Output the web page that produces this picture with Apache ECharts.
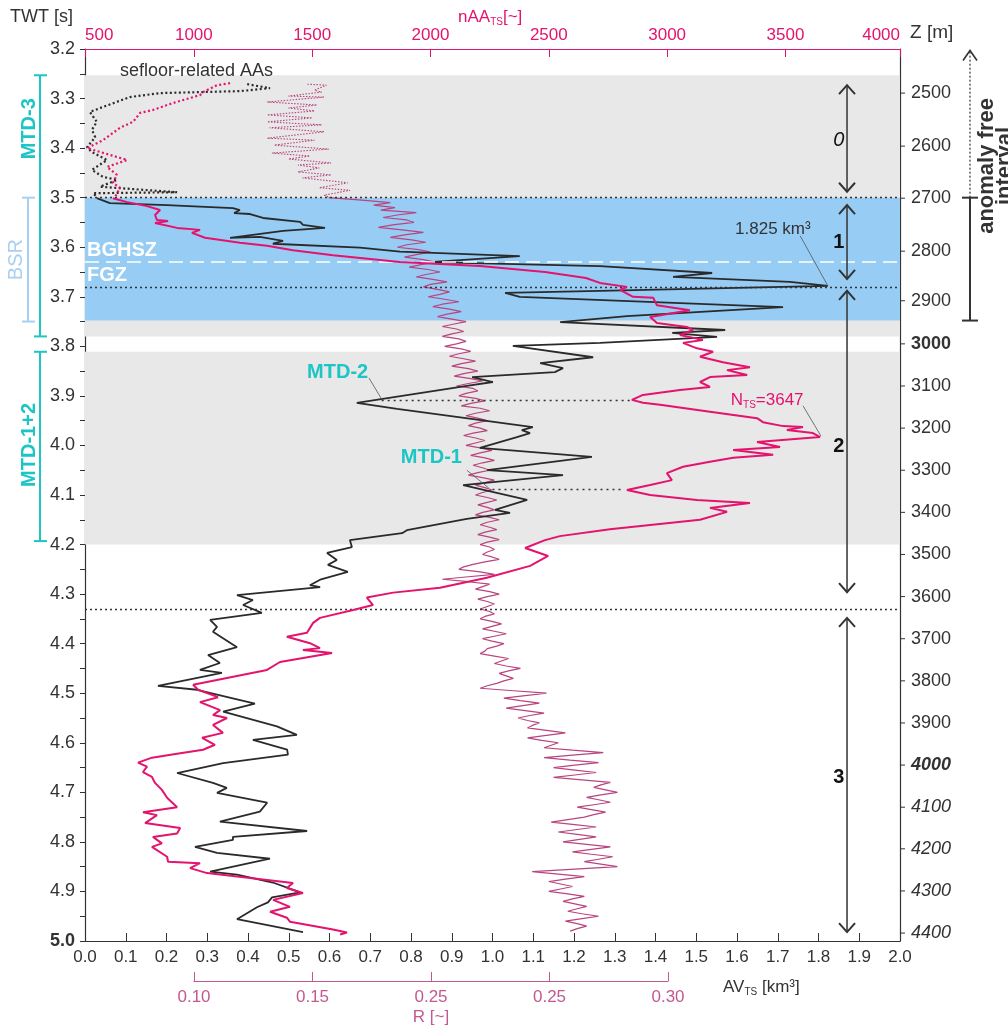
<!DOCTYPE html>
<html><head><meta charset="utf-8">
<script src="https://cdn.jsdelivr.net/npm/echarts@6/dist/echarts.min.js"></script>
<style>html,body{margin:0;padding:0;background:#fff}#c{width:1008px;height:1030px}</style>
</head><body><div id="c"></div>
<script>
// ---------------- DATA ----------------
// AV_TS [km3] vs TWT [s]  : pairs [twt, av]
const avDotted = [[3.271,0.398],[3.279,0.454],[3.285,0.380],[3.289,0.184],[3.297,0.110],[3.317,0.044],[3.327,0.012],[3.347,0.029],[3.363,0.017],[3.378,0.025],[3.398,0.005],[3.408,0.017],[3.424,0.054],[3.444,0.017],[3.458,0.044],[3.464,0.079],[3.478,0.037],[3.489,0.226],[3.491,0.020],[3.499,0.029]];
const avSolid = [[3.501,0.029],[3.511,0.061],[3.515,0.201],[3.521,0.363],[3.525,0.380],[3.531,0.366],[3.533,0.405],[3.541,0.437],[3.549,0.528],[3.555,0.535],[3.561,0.589],[3.567,0.486],[3.581,0.356],[3.579,0.429],[3.587,0.486],[3.593,0.461],[3.601,0.675],[3.609,0.773],[3.618,1.067],[3.630,0.847],[3.638,1.264],[3.652,1.539],[3.660,1.443],[3.670,1.730],[3.678,1.823],[3.688,1.264],[3.692,1.031],[3.700,1.067],[3.721,1.713],[3.739,1.330],[3.751,1.166],[3.767,1.571],[3.773,1.441],[3.781,1.551],[3.793,1.264],[3.799,1.050],[3.822,1.247],[3.834,1.117],[3.844,1.173],[3.852,1.153],[3.862,0.950],[3.872,1.001],[3.880,0.937],[3.914,0.667],[3.926,0.766],[3.963,1.099],[3.969,1.072],[3.975,1.092],[3.983,1.060],[4.005,0.969],[4.023,1.244],[4.050,0.987],[4.060,1.173],[4.080,0.928],[4.110,1.085],[4.130,1.006],[4.136,1.043],[4.148,0.937],[4.171,0.790],[4.177,0.778],[4.191,0.650],[4.205,0.655],[4.217,0.594],[4.231,0.618],[4.241,0.596],[4.255,0.645],[4.271,0.577],[4.282,0.552],[4.286,0.577],[4.302,0.373],[4.312,0.412],[4.322,0.388],[4.338,0.434],[4.352,0.307],[4.366,0.324],[4.376,0.314],[4.407,0.373],[4.423,0.302],[4.439,0.331],[4.453,0.282],[4.459,0.336],[4.485,0.179],[4.493,0.275],[4.521,0.417],[4.537,0.339],[4.567,0.471],[4.584,0.520],[4.594,0.412],[4.614,0.496],[4.624,0.498],[4.641,0.339],[4.661,0.226],[4.681,0.314],[4.691,0.348],[4.701,0.324],[4.721,0.447],[4.739,0.429],[4.759,0.331],[4.778,0.545],[4.790,0.363],[4.796,0.363],[4.810,0.270],[4.822,0.324],[4.834,0.454],[4.860,0.307],[4.866,0.373],[4.882,0.461],[4.902,0.528],[4.912,0.459],[4.922,0.449],[4.932,0.422],[4.956,0.373],[4.982,0.535]];
// nAA_TS [~] vs TWT : pairs [twt, nAA]
const naaDotted = [[3.269,1153],[3.273,1098],[3.287,1039],[3.293,1026],[3.309,912],[3.323,827],[3.329,773],[3.347,743],[3.359,688],[3.384,616],[3.400,549],[3.424,718],[3.438,633],[3.454,675],[3.470,658],[3.480,688],[3.499,667]];
const naaSolid = [[3.501,658],[3.509,718],[3.517,802],[3.525,857],[3.535,836],[3.545,844],[3.547,891],[3.551,836],[3.561,929],[3.565,1026],[3.571,992],[3.581,1047],[3.591,1195],[3.597,1309],[3.606,1419],[3.616,1588],[3.630,1871],[3.638,2209],[3.650,2484],[3.662,2657],[3.672,2716],[3.680,2830],[3.686,2801],[3.700,2856],[3.702,2941],[3.717,2957],[3.727,3096],[3.741,2928],[3.753,2957],[3.761,3084],[3.767,3109],[3.777,3054],[3.787,3151],[3.793,3067],[3.804,3126],[3.811,3194],[3.821,3139],[3.832,3236],[3.842,3350],[3.848,3253],[3.858,3338],[3.862,3181],[3.872,3139],[3.882,3181],[3.888,3054],[3.898,2898],[3.908,2851],[3.914,2898],[3.918,2970],[3.922,2970],[3.932,3181],[3.945,3380],[3.953,3405],[3.961,3490],[3.963,3574],[3.969,3506],[3.975,3616],[3.983,3646],[3.993,3380],[4.003,3477],[4.009,3279],[4.019,3448],[4.025,3279],[4.033,3181],[4.043,3067],[4.056,2999],[4.070,3020],[4.080,2928],[4.090,2830],[4.100,2928],[4.110,3126],[4.116,3350],[4.126,3181],[4.134,3253],[4.150,3139],[4.169,2758],[4.183,2547],[4.191,2484],[4.207,2400],[4.223,2497],[4.243,2421],[4.267,2238],[4.287,2040],[4.297,1842],[4.307,1731],[4.322,1757],[4.332,1673],[4.348,1533],[4.358,1504],[4.378,1478],[4.386,1393],[4.399,1491],[4.409,1533],[4.413,1461],[4.419,1584],[4.437,1364],[4.453,1309],[4.483,997],[4.493,1018],[4.508,1102],[4.518,1026],[4.534,1111],[4.544,1081],[4.550,1140],[4.564,1081],[4.580,1123],[4.590,1035],[4.604,1089],[4.614,1039],[4.622,929],[4.630,823],[4.640,764],[4.648,802],[4.659,785],[4.669,823],[4.681,836],[4.695,865],[4.711,887],[4.730,929],[4.740,785],[4.746,844],[4.762,794],[4.772,942],[4.783,929],[4.790,827],[4.803,865],[4.810,823],[4.830,887],[4.840,891],[4.843,1026],[4.853,984],[4.863,1056],[4.883,1419],[4.893,1393],[4.903,1461],[4.917,1335],[4.931,1406],[4.941,1322],[4.953,1393],[4.961,1406],[4.977,1588],[4.983,1647],[4.987,1618]];
// R [~] vs TWT : pairs [twt, R]
const rDotted = [[3.271,0.148],[3.273,0.156],[3.283,0.151],[3.287,0.154],[3.295,0.140],[3.297,0.155],[3.307,0.131],[3.313,0.152],[3.319,0.140],[3.325,0.151],[3.333,0.131],[3.339,0.150],[3.347,0.131],[3.353,0.154],[3.359,0.132],[3.367,0.155],[3.380,0.131],[3.384,0.151],[3.394,0.134],[3.402,0.157],[3.410,0.133],[3.416,0.149],[3.422,0.140],[3.430,0.158],[3.434,0.144],[3.440,0.153],[3.448,0.144],[3.454,0.158],[3.460,0.146],[3.470,0.165],[3.480,0.153],[3.485,0.166],[3.495,0.155],[3.499,0.157]];
const rSolid = [[3.50,0.157],[3.505,0.171],[3.51,0.183],[3.515,0.176],[3.52,0.185],[3.525,0.179],[3.53,0.194],[3.535,0.186],[3.54,0.180],[3.545,0.190],[3.55,0.193],[3.555,0.184],[3.56,0.178],[3.565,0.188],[3.57,0.197],[3.575,0.189],[3.58,0.183],[3.585,0.192],[3.59,0.198],[3.595,0.190],[3.60,0.186],[3.605,0.195],[3.61,0.200],[3.615,0.194],[3.62,0.189],[3.625,0.197],[3.63,0.202],[3.635,0.196],[3.64,0.191],[3.645,0.199],[3.65,0.204],[3.655,0.198],[3.66,0.194],[3.665,0.201],[3.67,0.207],[3.675,0.200],[3.68,0.197],[3.685,0.203],[3.69,0.208],[3.695,0.204],[3.70,0.199],[3.705,0.206],[3.71,0.212],[3.715,0.205],[3.72,0.201],[3.725,0.208],[3.73,0.213],[3.735,0.207],[3.74,0.203],[3.745,0.209],[3.75,0.215],[3.755,0.210],[3.76,0.205],[3.765,0.211],[3.77,0.214],[3.775,0.209],[3.78,0.205],[3.785,0.212],[3.79,0.215],[3.795,0.211],[3.80,0.206],[3.805,0.213],[3.81,0.217],[3.815,0.212],[3.82,0.208],[3.825,0.214],[3.83,0.219],[3.835,0.213],[3.84,0.209],[3.845,0.216],[3.85,0.220],[3.855,0.214],[3.86,0.210],[3.865,0.217],[3.87,0.222],[3.875,0.216],[3.88,0.211],[3.885,0.218],[3.89,0.220],[3.895,0.215],[3.90,0.212],[3.905,0.219],[3.91,0.223],[3.915,0.217],[3.92,0.213],[3.925,0.221],[3.93,0.225],[3.935,0.219],[3.94,0.215],[3.945,0.220],[3.95,0.224],[3.955,0.219],[3.96,0.216],[3.965,0.221],[3.97,0.224],[3.975,0.218],[3.98,0.214],[3.985,0.219],[3.99,0.223],[3.995,0.219],[4.00,0.215],[4.005,0.221],[4.01,0.226],[4.015,0.221],[4.02,0.217],[4.025,0.223],[4.03,0.227],[4.035,0.222],[4.04,0.218],[4.045,0.222],[4.05,0.225],[4.055,0.220],[4.06,0.216],[4.065,0.222],[4.07,0.227],[4.075,0.223],[4.08,0.219],[4.085,0.223],[4.09,0.226],[4.095,0.222],[4.10,0.219],[4.105,0.224],[4.11,0.228],[4.115,0.224],[4.12,0.220],[4.125,0.224],[4.13,0.227],[4.135,0.222],[4.14,0.219],[4.145,0.225],[4.15,0.229],[4.155,0.224],[4.16,0.221],[4.165,0.225],[4.17,0.228],[4.175,0.223],[4.18,0.220],[4.185,0.225],[4.19,0.229],[4.195,0.224],[4.20,0.221],[4.205,0.225],[4.21,0.227],[4.215,0.224],[4.22,0.222],[4.225,0.226],[4.23,0.229],[4.235,0.223],[4.24,0.218],[4.245,0.214],[4.25,0.212],[4.255,0.221],[4.26,0.227],[4.265,0.216],[4.27,0.205],[4.275,0.216],[4.28,0.225],[4.285,0.222],[4.29,0.219],[4.295,0.225],[4.30,0.229],[4.305,0.224],[4.31,0.220],[4.315,0.224],[4.32,0.227],[4.325,0.224],[4.33,0.221],[4.335,0.225],[4.34,0.227],[4.345,0.223],[4.35,0.221],[4.355,0.226],[4.36,0.230],[4.365,0.226],[4.37,0.222],[4.375,0.227],[4.38,0.232],[4.385,0.227],[4.39,0.222],[4.395,0.226],[4.40,0.231],[4.405,0.228],[4.41,0.224],[4.415,0.223],[4.42,0.221],[4.425,0.227],[4.43,0.233],[4.435,0.230],[4.44,0.227],[4.445,0.232],[4.45,0.238],[4.455,0.233],[4.46,0.229],[4.465,0.232],[4.47,0.235],[4.475,0.231],[4.48,0.228],[4.485,0.224],[4.49,0.221],[4.495,0.235],[4.50,0.249],[4.505,0.240],[4.51,0.231],[4.515,0.238],[4.52,0.246],[4.525,0.239],[4.53,0.232],[4.535,0.240],[4.54,0.248],[4.545,0.242],[4.55,0.237],[4.555,0.241],[4.56,0.246],[4.565,0.243],[4.57,0.241],[4.575,0.249],[4.58,0.257],[4.585,0.249],[4.59,0.241],[4.595,0.247],[4.60,0.254],[4.605,0.251],[4.61,0.248],[4.615,0.260],[4.62,0.273],[4.625,0.260],[4.63,0.248],[4.635,0.259],[4.64,0.271],[4.645,0.261],[4.65,0.252],[4.655,0.261],[4.66,0.270],[4.665,0.261],[4.67,0.252],[4.675,0.264],[4.68,0.276],[4.685,0.272],[4.69,0.269],[4.695,0.274],[4.70,0.279],[4.705,0.272],[4.71,0.266],[4.715,0.271],[4.72,0.276],[4.725,0.269],[4.73,0.262],[4.735,0.268],[4.74,0.274],[4.745,0.269],[4.75,0.265],[4.755,0.258],[4.76,0.251],[4.765,0.261],[4.77,0.270],[4.775,0.262],[4.78,0.254],[4.785,0.262],[4.79,0.270],[4.795,0.263],[4.80,0.256],[4.805,0.266],[4.81,0.276],[4.815,0.268],[4.82,0.260],[4.825,0.268],[4.83,0.277],[4.835,0.271],[4.84,0.265],[4.845,0.272],[4.85,0.279],[4.855,0.261],[4.86,0.243],[4.865,0.254],[4.87,0.265],[4.875,0.257],[4.88,0.250],[4.885,0.255],[4.89,0.260],[4.895,0.255],[4.90,0.250],[4.905,0.258],[4.91,0.265],[4.915,0.260],[4.92,0.256],[4.925,0.261],[4.93,0.266],[4.935,0.262],[4.94,0.258],[4.945,0.264],[4.95,0.271],[4.955,0.264],[4.96,0.257],[4.965,0.262],[4.97,0.266],[4.975,0.262],[4.98,0.259]];

// Depth axis Z [m]: labels and the TWT where each sits
const zLabels = [2500,2600,2700,2800,2900,3000,3100,3200,3300,3400,3500,3600,3700,3800,3900,4000,4100,4200,4300,4400];
const zTWT = [3.289,3.396,3.501,3.608,3.708,3.795,3.880,3.965,4.050,4.135,4.220,4.305,4.390,4.475,4.560,4.645,4.730,4.814,4.899,4.984];

// Intervals (TWT)
const greyBands = [[3.253,3.780],[3.811,4.200]];
const blueBand = [3.500,3.748];
const dottedLevels = [3.500,3.678,4.325];
const bghszLevel = 3.634;
const mtdLinks = [[3.9096,0.728,1.342],[4.0885,1.000,1.317]]; // [twt, avFrom, avTo]
const leaders = [[[0.697,3.864],[0.729,3.908]],[[0.937,4.050],[0.991,4.086]],[[1.755,3.577],[1.823,3.678]],[[1.762,3.920],[1.806,3.981]]];
const intervalArrows = [[3.273,3.488,'0',3.384],[3.515,3.664,'1',3.591],[3.688,4.296,'2',4.003],[4.348,4.982,'3',4.671]];
const mtdBrackets = [['MTD-3',3.253,3.780,3.361],['MTD-1+2',3.811,4.193,3.999]];
const bsrBracket = [3.500,3.750];
const anomalyBracket = [3.500,3.748];
const topTicks = ['500','4000'];
const rTickText = ['0.10','0.15','0.25','0.25','0.30'];

// ---------------- STYLE ----------------
const FF = '"Liberation Sans", Arial, Helvetica, sans-serif';
const C_BLACK = '#2a2a2a', C_MAG = '#e4136d', C_MAUVE = '#b8457f', C_MAUVE_T = '#c25990',
      C_CYAN = '#1dc5c5', C_BLUE = '#97ccf4', C_GREY = '#e8e8e8', C_BSR = '#a8d0f2', C_TXT = '#333';
const NAA_MIN = 540, NAA_MAX = 3984;

const chart = echarts.init(document.getElementById('c'), null, {renderer: 'canvas'});
const sw = a => a.map(p => [p[1], p[0]]);

const option = {
  animation: false,
  backgroundColor: '#fff',
  grid: [
    {left: 85, right: 108, top: 49, bottom: 89, containLabel: false, outerBoundsMode: 'none'},
    {left: 194, right: 340, top: 961, height: 20, containLabel: false, outerBoundsMode: 'none'}
  ],
  xAxis: [
    {type: 'value', gridIndex: 0, position: 'bottom', min: 0, max: 2, interval: 0.1,
     axisLine: {show: true, onZero: false, lineStyle: {color: C_TXT, width: 1.2}},
     axisTick: {show: true, inside: true, length: 8, lineStyle: {color: C_TXT}},
     axisLabel: {formatter: v => v.toFixed(1), color: C_TXT, fontSize: 17, fontFamily: FF, margin: 8, showMinLabel: true, showMaxLabel: true},
     splitLine: {show: false}},
    {type: 'value', gridIndex: 0, position: 'top', min: NAA_MIN, max: NAA_MAX,
     axisLine: {show: true, onZero: false, lineStyle: {color: C_MAG, width: 1.2}},
     axisTick: {show: true, inside: true, length: 8, lineStyle: {color: C_MAG}},
     axisLabel: {color: C_MAG, fontSize: 17, fontFamily: FF, margin: 5, showMinLabel: true, showMaxLabel: true,
       alignMinLabel: 'left', alignMaxLabel: 'right',
       formatter: v => v === NAA_MIN ? topTicks[0] : (v === NAA_MAX ? topTicks[1] : String(v))},
     splitLine: {show: false}},
    {type: 'value', gridIndex: 0, show: false, min: NAA_MIN / 10000, max: NAA_MAX / 10000},
    {type: 'value', gridIndex: 1, position: 'bottom', min: 0.1, max: 0.3, interval: 0.05,
     axisLine: {show: true, onZero: false, lineStyle: {color: C_MAUVE_T, width: 1.2}},
     axisTick: {show: true, inside: true, length: 9, lineStyle: {color: C_MAUVE_T}},
     axisLabel: {color: C_MAUVE_T, fontSize: 17, fontFamily: FF, margin: 8, showMinLabel: true, showMaxLabel: true,
       formatter: v => rTickText[Math.round((v - 0.1) / 0.05)]},
     name: 'R [~]', nameLocation: 'middle', nameGap: 28,
     nameTextStyle: {color: C_MAUVE_T, fontSize: 17, fontFamily: FF},
     splitLine: {show: false}}
  ],
  yAxis: [
    {type: 'value', gridIndex: 0, inverse: true, min: 3.2, max: 5.0, interval: 0.05, position: 'left',
     axisLine: {show: true, onZero: false, lineStyle: {color: C_TXT, width: 1.2}},
     axisTick: {show: true, inside: false, length: 5, lineStyle: {color: C_TXT}},
     axisLabel: {color: C_TXT, fontSize: 18, fontFamily: FF, margin: 10, showMinLabel: true, showMaxLabel: true,
       formatter: v => { const r = Math.round(v * 100); if (r % 10) return ''; const s = (r / 100).toFixed(1); return r === 500 ? '{b|' + s + '}' : s; },
       rich: {b: {fontWeight: 'bold', fontSize: 18, fontFamily: FF, color: C_TXT}}},
     splitLine: {show: false}},
    {type: 'value', gridIndex: 0, inverse: true, min: 3.2, max: 5.0, position: 'right',
     axisLine: {show: true, onZero: false, lineStyle: {color: C_TXT, width: 1.2}},
     axisTick: {show: false}, axisLabel: {show: false}, splitLine: {show: false}},
    {type: 'value', gridIndex: 1, show: false, min: 0, max: 1}
  ],
  series: [
    {name: 'bands', type: 'line', xAxisIndex: 0, yAxisIndex: 0, data: [[0, 3.2]], symbol: 'none', silent: true,
     lineStyle: {opacity: 0}, z: 1,
     markArea: {silent: true, z: 1, data: [
       [{yAxis: greyBands[0][0], itemStyle: {color: C_GREY}}, {yAxis: greyBands[0][1]}],
       [{yAxis: greyBands[1][0], itemStyle: {color: C_GREY}}, {yAxis: greyBands[1][1]}],
       [{yAxis: blueBand[0], itemStyle: {color: C_BLUE}}, {yAxis: blueBand[1]}]
     ]}},
    {name: 'R dotted', type: 'line', xAxisIndex: 2, yAxisIndex: 0, data: sw(rDotted), symbol: 'none', z: 3,
     lineStyle: {color: C_MAUVE, width: 1.1, type: [1.5, 1.5]}},
    {name: 'R', type: 'line', xAxisIndex: 2, yAxisIndex: 0, data: sw(rSolid), symbol: 'none', z: 3,
     lineStyle: {color: C_MAUVE, width: 1.2}},
    {name: 'AV dotted', type: 'line', xAxisIndex: 0, yAxisIndex: 0, data: sw(avDotted), symbol: 'none', z: 4,
     lineStyle: {color: C_BLACK, width: 2.2, type: [2, 2.5]}},
    {name: 'AV', type: 'line', xAxisIndex: 0, yAxisIndex: 0, data: sw(avSolid), symbol: 'none', z: 4,
     lineStyle: {color: C_BLACK, width: 1.8}},
    {name: 'nAA dotted', type: 'line', xAxisIndex: 1, yAxisIndex: 0, data: sw(naaDotted), symbol: 'none', z: 5,
     lineStyle: {color: C_MAG, width: 2.2, type: [2, 2.5]}},
    {name: 'nAA', type: 'line', xAxisIndex: 1, yAxisIndex: 0, data: sw(naaSolid), symbol: 'none', z: 5,
     lineStyle: {color: C_MAG, width: 2}},
    {name: 'levels', type: 'line', xAxisIndex: 0, yAxisIndex: 0, data: [[0, 3.2]], symbol: 'none', silent: true,
     lineStyle: {opacity: 0}, z: 6,
     markLine: {silent: true, symbol: ['none', 'none'], label: {show: false}, animation: false,
       data: [].concat(
         dottedLevels.map(t => ({yAxis: t, lineStyle: {color: C_TXT, width: 1.3, type: [2, 3]}})),
         [{yAxis: bghszLevel, lineStyle: {color: '#fff', width: 1.6, type: [14, 7]}}],
         mtdLinks.map(m => [{coord: [m[1], m[0]], lineStyle: {color: C_TXT, width: 1.3, type: [2, 4]}}, {coord: [m[2], m[0]]}]),
         leaders.map(l => [{coord: l[0], lineStyle: {color: '#555', width: 0.8, type: 'solid'}}, {coord: l[1]}])
       )}}
  ]
};
chart.setOption(option);

// ---------------- annotations placed through the chart's own scales ----------------
const P = (av, t) => chart.convertToPixel({xAxisIndex: 0, yAxisIndex: 0}, [av, t]);
const Y = t => P(0, t)[1];
const X = av => P(av, 3.2)[0];
const xR = X(2);
const g = [];
function ln(x1, y1, x2, y2, stroke, w, dash) {
  g.push({type: 'line', silent: true, z: 100, shape: {x1, y1, x2, y2}, style: {stroke, lineWidth: w, lineDash: dash || null}});
}
function pl(points, stroke, w) {
  g.push({type: 'polyline', silent: true, z: 100, shape: {points}, style: {stroke, lineWidth: w, fill: null}});
}
function tx(x, y, str, font, fill, align, valign, rot, extra) {
  const st = Object.assign({text: str, font, fill, textAlign: align || 'left', textVerticalAlign: valign || 'middle',
    align: align || 'left', verticalAlign: valign || 'middle'}, extra || {});
  g.push({type: 'text', silent: true, z: 101, x, y, rotation: rot || 0, style: st});
}
const mctx = document.createElement('canvas').getContext('2d');
function tw(s, font) { mctx.font = font; return mctx.measureText(s).width; }
function sub(x, y, parts, fill, align) {
  const fonts = parts.map(p => p[1] + 'px ' + FF);
  const total = parts.reduce((s, p, i) => s + tw(p[0], fonts[i]), 0);
  let cx = align === 'center' ? x - total / 2 : (align === 'right' ? x - total : x);
  parts.forEach((p, i) => { tx(cx, y + (p[2] || 0), p[0], fonts[i], fill, 'left', 'middle'); cx += tw(p[0], fonts[i]); });
}

// right depth axis ticks and labels
zLabels.forEach((z, i) => {
  const y = Y(zTWT[i]);
  ln(xR, y, xR + 5, y, C_TXT, 1);
  const f = (z === 3000 ? 'bold ' : z === 4000 ? 'italic bold ' : z > 4000 ? 'italic ' : '') + '18px ' + FF;
  tx(xR + 11, y, String(z), f, C_TXT, 'left', 'middle');
});

// axis titles
tx(10, 17, 'TWT [s]', '18px ' + FF, C_TXT, 'left', 'middle');
sub(458, 17, [['nAA', 17], ['TS', 10, 5], ['[~]', 17]], C_MAG, 'left');
tx(910, 33, 'Z [m]', '19px ' + FF, C_TXT, 'left', 'middle');
sub(723, 987, [['AV', 17], ['TS', 10, 5], [' [km³]', 17]], C_TXT, 'left');

// in-plot texts
let p;
p = P(0.086, 3.244); tx(p[0], p[1], 'sefloor-related AAs', '18px ' + FF, C_TXT, 'left', 'middle');
p = P(0.005, 3.606); tx(p[0], p[1], 'BGHSZ', 'bold 20px ' + FF, '#fff', 'left', 'middle');
p = P(0.005, 3.658); tx(p[0], p[1], 'FGZ', 'bold 20px ' + FF, '#fff', 'left', 'middle');
p = P(1.688, 3.564); tx(p[0], p[1], '1.825 km³', '17px ' + FF, C_TXT, 'center', 'middle');
p = P(1.674, 3.908); sub(p[0], p[1], [['N', 17], ['TS', 10, 5], ['=3647', 17]], C_MAG, 'center');
p = P(0.620, 3.852); tx(p[0], p[1], 'MTD-2', 'bold 20px ' + FF, C_CYAN, 'center', 'middle');
p = P(0.850, 4.025); tx(p[0], p[1], 'MTD-1', 'bold 20px ' + FF, C_CYAN, 'center', 'middle');

// interval double arrows
intervalArrows.forEach(a => {
  const x = X(1.87), y1 = Y(a[0]), y2 = Y(a[1]);
  ln(x, y1, x, y2, C_TXT, 1.5);
  pl([[x - 8, y1 + 9], [x, y1], [x + 8, y1 + 9]], C_TXT, 2);
  pl([[x - 8, y2 - 9], [x, y2], [x + 8, y2 - 9]], C_TXT, 2);
  const f = (a[2] === '0' ? 'italic ' : 'bold ') + '20px ' + FF;
  tx(X(1.85), Y(a[3]), a[2], f, '#111', 'center', 'middle');
});

// MTD brackets (left)
mtdBrackets.forEach(b => {
  const y1 = Y(b[1]), y2 = Y(b[2]);
  ln(40, y1, 40, y2, C_CYAN, 2); ln(34, y1, 47, y1, C_CYAN, 2); ln(34, y2, 47, y2, C_CYAN, 2);
  tx(29, Y(b[3]), b[0], 'bold 20px ' + FF, C_CYAN, 'center', 'middle', Math.PI / 2);
});
// BSR bracket
(function () {
  const y1 = Y(bsrBracket[0]), y2 = Y(bsrBracket[1]);
  ln(28, y1, 28, y2, C_BSR, 2); ln(22, y1, 35, y1, C_BSR, 2); ln(22, y2, 35, y2, C_BSR, 2);
  tx(16, (y1 + y2) / 2, 'BSR', '20px ' + FF, C_BSR, 'center', 'middle', Math.PI / 2);
})();
// anomaly free interval (right)
(function () {
  const y1 = Y(anomalyBracket[0]), y2 = Y(anomalyBracket[1]), yt = Y(3.203);
  ln(970, y1, 970, yt, C_TXT, 1.2, [2, 2]);
  pl([[963, yt + 10], [970, yt], [977, yt + 10]], C_TXT, 1.6);
  ln(970, y1, 970, y2, C_TXT, 2); ln(962, y1, 978, y1, C_TXT, 2); ln(962, y2, 978, y2, C_TXT, 2);
  tx(996, Y(3.436), 'anomaly free\ninterval', 'bold 22px ' + FF, C_TXT, 'center', 'middle', Math.PI / 2, {lineHeight: 18});
})();

chart.setOption({graphic: {elements: g}});
</script></body></html>
